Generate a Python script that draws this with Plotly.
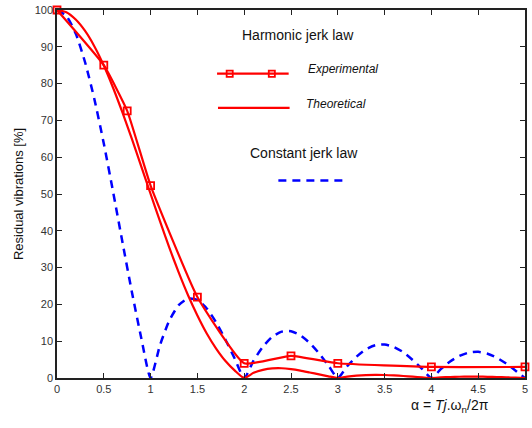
import plotly.graph_objects as go

# ---- data ----
alpha = [0.0, 0.1, 0.2, 0.3, 0.4, 0.5, 0.6, 0.7, 0.8, 0.9,
         1.0, 1.1, 1.2, 1.3, 1.4, 1.5, 1.6, 1.7, 1.8, 1.9,
         2.0, 2.1, 2.2, 2.3, 2.4, 2.5, 2.6, 2.7, 2.8, 2.9,
         3.0, 3.1, 3.2, 3.3, 3.4, 3.5, 3.6, 3.7, 3.8, 3.9,
         4.0, 4.1, 4.2, 4.3, 4.4, 4.5, 4.6, 4.7, 4.8, 4.9, 5.0]

constant_jerk = [100, 98.4, 93.6, 85.8, 75.7, 63.7, 50.5, 36.8, 23.4, 10.9,
                 0, 8.9, 15.6, 19.8, 21.6, 21.2, 18.9, 15.1, 10.4, 5.2,
                 0, 4.7, 8.5, 11.2, 12.6, 12.7, 11.6, 9.5, 6.7, 3.4,
                 0, 3.2, 5.8, 7.8, 8.9, 9.1, 8.4, 7.0, 4.9, 2.5,
                 0, 2.4, 4.5, 6.0, 6.9, 7.1, 6.6, 5.5, 3.9, 2.0, 0]

harmonic_theoretical = [100, 99.4, 97.4, 94.3, 90.1, 84.9, 78.8, 72.1, 65.0, 57.5,
                        50.0, 42.6, 35.4, 28.7, 22.5, 17.0, 12.1, 8.0, 4.6, 2.0,
                        0, 1.4, 2.2, 2.6, 2.65, 2.4, 2.0, 1.5, 0.98, 0.46,
                        0, 0.37, 0.63, 0.79, 0.84, 0.81, 0.70, 0.55, 0.37, 0.18,
                        0, 0.15, 0.27, 0.34, 0.37, 0.37, 0.33, 0.26, 0.18, 0.09, 0]

exp_alpha = [0, 0.5, 0.75, 1.0, 1.5, 2.0, 2.5, 3.0, 4.0, 5.0]
harmonic_experimental = [100, 85, 72.6, 52.3, 22, 4, 6, 4, 3, 3]

x_ticks = [0, 0.5, 1, 1.5, 2, 2.5, 3, 3.5, 4, 4.5, 5]
x_tick_labels = ["0", "0.5", "1", "1.5", "2", "2.5", "3", "3.5", "4", "4.5", "5"]
y_ticks = [0, 10, 20, 30, 40, 50, 60, 70, 80, 90, 100]
y_tick_labels = [str(v) for v in y_ticks]

RED = "#ff0000"
BLUE = "#0000ff"
FONT = "Liberation Sans, Arial, sans-serif"

fig = go.Figure()

fig.add_trace(go.Scatter(
    x=alpha, y=constant_jerk, mode="lines",
    line=dict(color=BLUE, width=2.5, dash="8px,6px", shape="spline", smoothing=0.6),
    cliponaxis=False, showlegend=False))

fig.add_trace(go.Scatter(
    x=alpha, y=harmonic_theoretical, mode="lines",
    line=dict(color=RED, width=2.2, shape="spline", smoothing=0.6),
    cliponaxis=False, showlegend=False))

fig.add_trace(go.Scatter(
    x=exp_alpha, y=harmonic_experimental, mode="lines+markers",
    line=dict(color=RED, width=2.2, shape="spline", smoothing=0.4),
    marker=dict(symbol="square-open", size=7, color=RED, line=dict(width=1.8, color=RED)),
    cliponaxis=False, showlegend=False))

# ---- legend glyphs (paper coords of plot area) ----
shapes = [
    dict(type="line", xref="paper", yref="paper", x0=0.342, x1=0.495, y0=0.827, y1=0.827,
         line=dict(color=RED, width=2.2)),
    dict(type="line", xref="paper", yref="paper", x0=0.344, x1=0.497, y0=0.734, y1=0.734,
         line=dict(color=RED, width=2.2)),
    dict(type="line", xref="paper", yref="paper", x0=0.473, x1=0.622, y0=0.537, y1=0.537,
         line=dict(color=BLUE, width=2.5, dash="8px,6px")),
]
for cx in (0.369, 0.459):
    shapes.append(dict(type="rect", xref="paper", yref="paper",
                       x0=cx - 0.0065, x1=cx + 0.0065, y0=0.827 - 0.0085, y1=0.827 + 0.0085,
                       line=dict(color=RED, width=1.8), fillcolor="rgba(0,0,0,0)"))

annotations = [
    dict(text="Harmonic jerk law", xref="paper", yref="paper", x=0.515, y=0.932,
         showarrow=False, font=dict(size=14, color="#111", family=FONT), xanchor="center", yanchor="middle"),
    dict(text="<i>Experimental</i>", xref="paper", yref="paper", x=0.531, y=0.84,
         showarrow=False, font=dict(size=12, color="#111", family=FONT), xanchor="left", yanchor="middle"),
    dict(text="<i>Theoretical</i>", xref="paper", yref="paper", x=0.527, y=0.745,
         showarrow=False, font=dict(size=12, color="#111", family=FONT), xanchor="left", yanchor="middle"),
    dict(text="Constant jerk law", xref="paper", yref="paper", x=0.528, y=0.612,
         showarrow=False, font=dict(size=14, color="#111", family=FONT), xanchor="center", yanchor="middle"),
    dict(text="α = <i>Tj</i>.ω<sub>n</sub>/2π", xref="paper", yref="paper", x=0.84, y=-0.075,
         showarrow=False, font=dict(size=14, color="#111", family=FONT), xanchor="center", yanchor="middle"),
]

axis_common = dict(showline=True, linecolor="#222", linewidth=1.5, mirror="ticks",
                   ticks="inside", ticklen=5, tickwidth=1, tickcolor="#222",
                   showgrid=False, zeroline=False,
                   tickfont=dict(size=11, color="#333", family=FONT))

fig.update_layout(
    width=532, height=428,
    margin=dict(l=57, r=4, t=9, b=50),
    plot_bgcolor="white", paper_bgcolor="white",
    xaxis=dict(range=[0, 5], tickvals=x_ticks, ticktext=x_tick_labels, **axis_common),
    yaxis=dict(range=[0, 100], tickvals=y_ticks, ticktext=y_tick_labels,
               title=dict(text="Residual vibrations [%]", standoff=8,
                          font=dict(size=13, color="#111", family=FONT)),
               **axis_common),
    shapes=shapes,
    annotations=annotations,
    showlegend=False,
)

fig.write_html("out.html", config={"displayModeBar": False},
               post_script="document.body.style.margin='0';document.body.style.overflow='hidden';")
